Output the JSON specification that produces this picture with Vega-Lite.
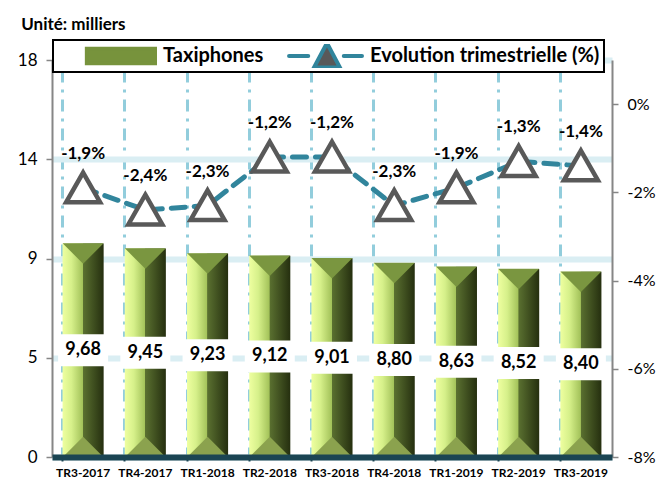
{
  "$schema": "https://vega.github.io/schema/vega-lite/v6.json",
  "width": 560,
  "height": 397,
  "autosize": {"type": "none"},
  "padding": {"left": 52, "top": 60, "right": 47, "bottom": 21},
  "background": "white",
  "title": {"text": "Unité: milliers", "anchor": "start", "dx": 4, "fontSize": 17, "font": "Lato", "fontWeight": "bold", "color": "black", "offset": -8, "baseline": "alphabetic"},
  "config": {
    "locale": {"number": {"decimal": ",", "thousands": " ", "grouping": [3], "currency": ["", " €"], "minus": "-"}},
    "view": {"stroke": null},
    "font": "Lato"
  },
  "data": {"values": [
    {"q": "TR3-2017", "taxi": 9.68, "evo": -0.019, "serie": "Evolution trimestrielle (%)"},
    {"q": "TR4-2017", "taxi": 9.45, "evo": -0.024, "serie": "Evolution trimestrielle (%)"},
    {"q": "TR1-2018", "taxi": 9.23, "evo": -0.023, "serie": "Evolution trimestrielle (%)"},
    {"q": "TR2-2018", "taxi": 9.12, "evo": -0.012, "serie": "Evolution trimestrielle (%)"},
    {"q": "TR3-2018", "taxi": 9.01, "evo": -0.012, "serie": "Evolution trimestrielle (%)"},
    {"q": "TR4-2018", "taxi": 8.80, "evo": -0.023, "serie": "Evolution trimestrielle (%)"},
    {"q": "TR1-2019", "taxi": 8.63, "evo": -0.019, "serie": "Evolution trimestrielle (%)"},
    {"q": "TR2-2019", "taxi": 8.52, "evo": -0.013, "serie": "Evolution trimestrielle (%)"},
    {"q": "TR3-2019", "taxi": 8.40, "evo": -0.014, "serie": "Evolution trimestrielle (%)"}
  ]},
  "layer": [
    {
      "encoding": {
        "x": {"field": "q", "type": "nominal", "sort": null, "scale": {"paddingInner": 0.34, "paddingOuter": 0.17},
          "axis": {"orient": "bottom", "title": null, "domainColor": "#1B4553", "domainWidth": 6, "tickColor": "#1B4553", "tickSize": 4, "tickWidth": 2, "bandPosition": 0, "labels": false, "grid": false, "zindex": 1}}
      },
      "layer": [
        {"mark": {"type": "bar", "color": {"gradient": "linear", "x1": 0, "x2": 1, "y1": 0, "y2": 0, "stops": [
            {"offset": 0, "color": "#EEFFA0"}, {"offset": 0.22, "color": "#D6F08A"}, {"offset": 0.49, "color": "#A3C25A"},
            {"offset": 0.5, "color": "#5A7030"}, {"offset": 1, "color": "#252F0F"}]}},
          "encoding": {"y": {"field": "taxi", "type": "quantitative", "scale": {"domain": [0, 18], "nice": false},
            "axis": {"title": null, "values": [0, 4.5, 9, 13.5, 18], "format": ".0f", "labelFont": "Lato", "labelFontSize": 17, "labelColor": "black", "labelPadding": 9, "domainColor": "#868686", "domainWidth": 2, "tickColor": "#868686", "tickSize": 6, "tickWidth": 1.5, "grid": true, "gridColor": "#DAEEF3", "gridWidth": 6, "zindex": 0}}}},
        {"mark": {"type": "point", "shape": "M-1,-0.5L1,-0.5L0,0.5Z", "size": 1681, "filled": true, "color": "#7A9640", "opacity": 1, "strokeWidth": 0, "yOffset": 10},
          "encoding": {"y": {"field": "taxi", "type": "quantitative"}}},
        {"mark": {"type": "point", "shape": "M-1,0.5L1,0.5L0,-0.5Z", "size": 1681, "filled": true, "color": "#8BA24E", "opacity": 1, "strokeWidth": 0, "yOffset": -10},
          "encoding": {"y": {"datum": 0, "type": "quantitative"}}}
      ]
    },
    {
      "encoding": {
        "x": {"field": "q", "type": "nominal", "sort": null,
          "axis": {"orient": "bottom", "title": null, "labelAngle": 0, "labelFont": "Lato", "labelFontWeight": "bold", "labelFontSize": 12, "labelColor": "black", "labelPadding": 10, "domain": false, "ticks": false, "grid": false, "zindex": 1}}
      },
      "layer": [
        {"mark": {"type": "point", "shape": "M-1,-0.64H1V0.64H-1Z", "size": 2500, "filled": true, "color": "white", "opacity": 1, "strokeWidth": 0},
          "encoding": {"y": {"field": "taxi", "type": "quantitative", "scale": {"domain": [0, 36], "nice": false}, "axis": null}}},
        {"mark": {"type": "text", "font": "Lato", "fontWeight": "bold", "fontSize": 18, "color": "black"},
          "encoding": {"y": {"field": "taxi", "type": "quantitative"}, "text": {"field": "taxi", "type": "quantitative", "format": ".2f"}}}
      ]
    },
    {
      "encoding": {
        "x": {"field": "q", "type": "nominal", "sort": null,
          "axis": {"orient": "bottom", "title": null, "labels": false, "domain": false, "ticks": false, "bandPosition": 0, "grid": true, "gridColor": "#92CDDC", "gridWidth": 3, "gridDash": [3, 7, 12, 7], "zindex": 0}}
      },
      "layer": [
        {"mark": {"type": "line", "strokeWidth": 5, "strokeDash": [14, 9], "strokeCap": "round"},
          "encoding": {
            "y": {"field": "evo", "type": "quantitative", "scale": {"domain": [-0.08, 0.01], "nice": false},
              "axis": {"orient": "right", "title": null, "values": [-0.08, -0.06, -0.04, -0.02, 0], "format": ".0%", "labelFont": "Lato", "labelFontSize": 16, "labelColor": "black", "labelPadding": 9, "domainColor": "#868686", "domainWidth": 2, "tickColor": "#868686", "tickSize": 6, "tickWidth": 1.5, "grid": false}},
            "color": {"field": "serie", "type": "nominal",
              "scale": {"domain": ["Taxiphones", "Evolution trimestrielle (%)"], "range": ["#77933C", "#31859C"]},
              "legend": {"orient": "none", "legendX": 1, "legendY": -20, "direction": "horizontal", "title": null,
                "strokeColor": "black", "fillColor": "white", "padding": 4, "clipHeight": 24, "symbolSize": 9216,
                "labelFont": "Lato", "labelFontSize": 20, "labelFontWeight": "bold", "labelColor": "black", "labelLimit": 400, "labelOffset": 6, "columnPadding": 0,
                "encode": {
                  "legend": {"update": {"strokeWidth": {"value": 2}}},
                  "symbols": {"update": {
                    "shape": {"signal": "datum.value === 'Taxiphones' ? 'M-0.42,-0.15H1V0.15H-0.42Z' : 'M-0.52,0H-0.12M0.62,0H1M0.0,0.24L0.27,-0.27L0.54,0.24Z'"},
                    "fill": {"signal": "datum.value === 'Taxiphones' ? '#77933C' : '#595959'"},
                    "stroke": {"signal": "datum.value === 'Taxiphones' ? 'transparent' : '#31859C'"},
                    "strokeWidth": {"value": 4},
                    "strokeCap": {"value": "round"},
                    "opacity": {"value": 1},
                    "size": {"value": 9216}
                  }}
                }}}
          }},
        {"mark": {"type": "point", "shape": "M0,-0.9L1,0.85L-1,0.85Z", "size": 1156, "filled": true, "fill": "white", "stroke": "#595959", "strokeWidth": 4.5, "opacity": 1},
          "encoding": {"y": {"field": "evo", "type": "quantitative"}}},
        {"mark": {"type": "text", "font": "Lato", "fontWeight": "bold", "fontSize": 17, "dy": -34, "color": "black"},
          "encoding": {"y": {"field": "evo", "type": "quantitative"}, "text": {"field": "evo", "type": "quantitative", "format": ".1%"}}}
      ]
    }
  ],
  "resolve": {"scale": {"y": "independent"}, "axis": {"x": "independent"}}
}
